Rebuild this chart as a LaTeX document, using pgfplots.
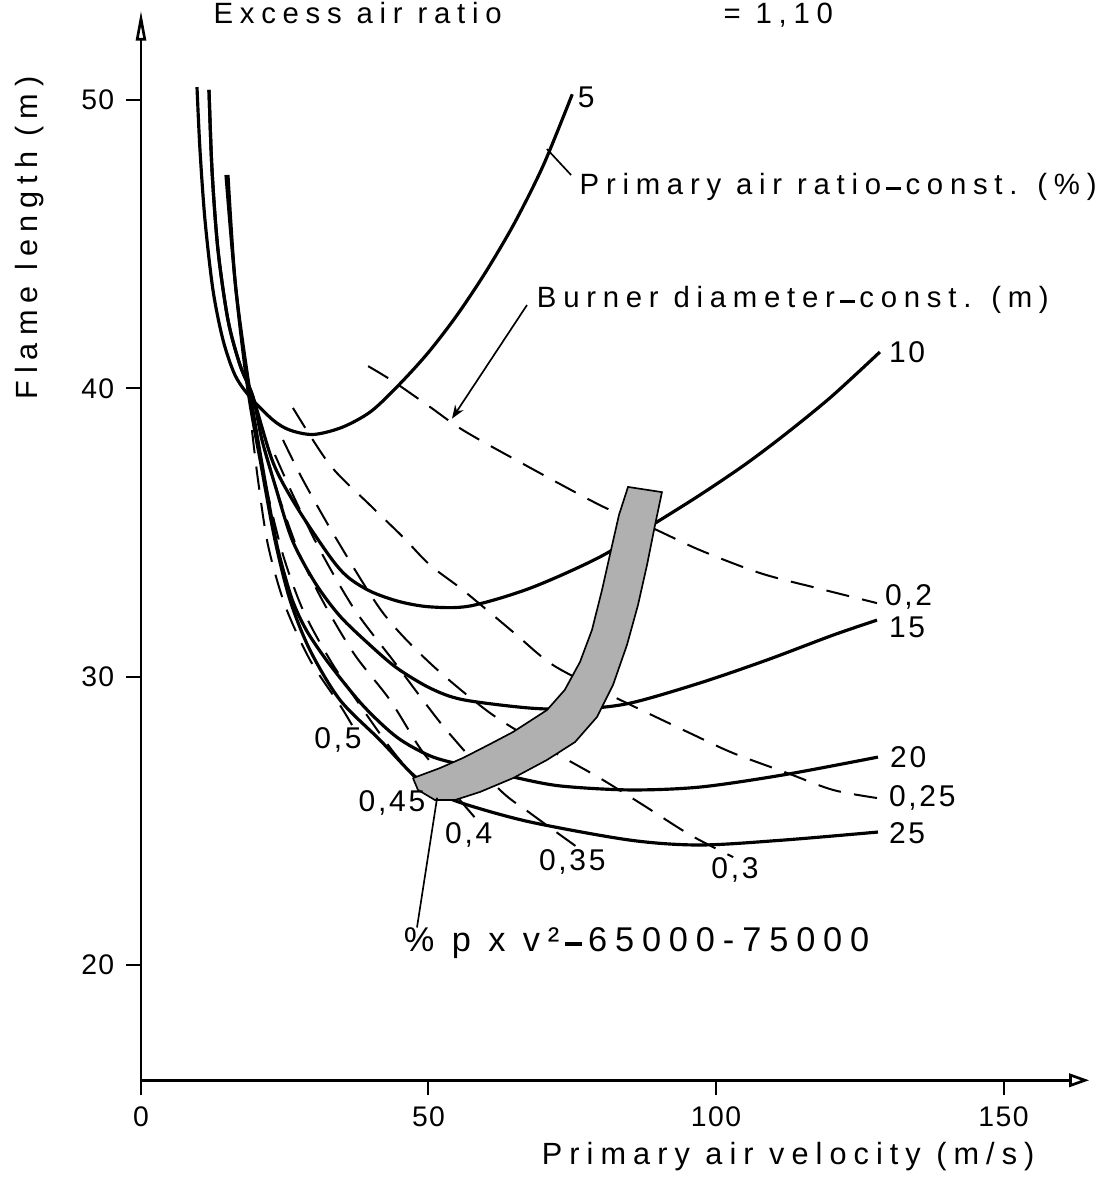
\documentclass[border=0pt]{standalone}
\usepackage{fontspec}
\setmainfont{Liberation Sans}[LetterSpace=23]
\newfontfamily\numfont{Liberation Sans}[LetterSpace=5]
\newfontfamily\labfont{Liberation Sans}[LetterSpace=9]
\usepackage{pgfplots}
\pgfplotsset{compat=1.18}
\usetikzlibrary{arrows.meta}

\newcommand{\lab}{\fontsize{8.8}{10}\selectfont}
\newcommand{\nlab}{\labfont\fontsize{9}{10}\selectfont}
\newcommand{\bdash}{\,\rule[0.3ex]{0.5em}{0.22ex}\,}

\pgfplotsset{
  curve/.style={black, line width=0.95pt, smooth, tension=0.5, no markers},
  dcurve/.style={black, line width=0.6pt, smooth, tension=0.5, no markers, dash pattern=on 7pt off 4pt},
  lead/.style={black, line width=0.5pt, no markers},
}

\begin{document}
\begin{tikzpicture}
\begin{axis}[
  x=1.725pt, y=8.649pt,
  xmin=0, xmax=164.9, ymin=16, ymax=53.1,
  axis lines=left,
  axis line style={line width=0.8pt},
  x axis line style={-{Triangle[open,length=6pt,width=4pt]}},
  y axis line style={-{Triangle[open,length=9pt,width=3pt]}},
  xtick={0,50,100,150}, ytick={20,30,40,50},
  tick align=outside, major tick length=4.5pt,
  tick style={black, line width=0.6pt},
  /pgf/number format/assume math mode=true,
  tick label style={font=\numfont\fontsize{8.5}{10}\selectfont},
  clip=false,
]

% primary air ratio = const. (solid)
\addplot[curve] coordinates {(9.74,50.45) (10.26,48.27) (11.13,45.84) (12.52,43.41) (14.26,41.68) (16.35,40.46) (18.96,39.70) (22.96,38.90) (25.91,38.55) (30.0,38.4) (35.0,38.65) (40.0,39.2) (45.0,40.15) (50.0,41.25) (55.0,42.55) (60.0,44.05) (65.0,45.75) (70.0,47.75) (75.0,50.2)};
\addplot[curve] coordinates {(11.83,50.35) (12.35,47.57) (13.39,44.80) (15.13,42.37) (17.22,40.81) (19.48,39.70) (23.0,37.41) (27.1,35.88) (32.9,34.15) (36.0,33.45) (40.0,32.95) (45.0,32.6) (50.3,32.42) (57.2,32.45) (67.7,33.07) (79.8,34.15) (89.7,35.36) (97.2,36.30) (105.0,37.35) (112.0,38.4) (120.0,39.7) (128.5,41.26)};
\addplot[curve] coordinates {(11.83,50.35) (12.35,47.57) (13.39,44.80) (15.13,42.37) (17.22,40.81) (19.48,39.70) (21.04,38.21) (23.3,36.65) (26.3,34.74) (30.3,33.25) (34.6,32.1) (39.8,31.1) (44.5,30.3) (50.3,29.6) (56.0,29.2) (67.65,28.91) (76.35,28.88) (85.04,29.08) (97.2,29.78) (108.9,30.58) (120.35,31.44) (128.0,31.96)};
\addplot[curve] coordinates {(14.78,47.40) (16.52,43.41) (18.96,39.87) (21.39,36.99) (23.65,34.56) (25.91,32.9) (27.5,32.1) (29.4,31.4) (32.9,30.4) (38.6,29.0) (44.5,27.9) (50.3,27.25) (56.0,26.93) (64.7,26.52) (72.87,26.21) (85.04,26.07) (97.2,26.17) (111.65,26.59) (128.17,27.21)};
\addplot[curve] coordinates {(15.13,47.4) (16.35,43.76) (18.6,39.94) (21.04,37.17) (23.3,34.74) (25.91,32.66) (29.39,30.92) (34.61,29.19) (41.57,27.8) (47.3,26.6) (51.5,26.0) (56.0,25.6) (67.65,24.96) (85.04,24.33) (97.2,24.16) (111.65,24.33) (128.17,24.61)};

% burner diameter = const. (dashed)
\addplot[dcurve] coordinates {(39.5,40.77) (43.8,40.25) (50.3,39.35) (56.0,38.55) (65.9,37.44) (79.8,35.95) (89.0,35.15) (97.2,34.39) (107.7,33.59) (117.6,33.07) (128.0,32.55)};
\addplot[dcurve] coordinates {(26.43,39.32) (32.87,37.34) (39.83,35.95) (45.57,34.84) (50.26,33.87) (56.0,33.0) (64.7,31.55) (71.13,30.47) (78.1,29.71) (84.52,29.08) (95.48,28.04) (102.96,27.35) (112.35,26.66) (120.35,26.07) (128.0,25.79)};
\addplot[dcurve] coordinates {(24.7,38.21) (28.17,36.82) (34.09,34.74) (42.09,32.21) (50.26,30.47) (60.7,28.74) (70.6,27.52) (79.8,26.48) (87.3,25.55) (95.5,24.51) (103.0,23.74)};
\addplot[dcurve] coordinates {(23.3,37.69) (26.43,36.30) (31.13,34.39) (37.2,32.31) (44.2,30.47) (49.74,29.0) (53.74,28.0) (62.43,26.07) (67.65,25.27) (75.83,24.09)};
\addplot[dcurve] coordinates {(21.57,37.86) (24.17,36.13) (27.65,34.22) (32.0,32.48) (37.2,30.75) (43.3,29.19) (48.52,27.52) (52.52,26.52) (55.48,25.72) (58.43,25.03)};
\addplot[dcurve] coordinates {(20.35,38.03) (22.09,36.30) (24.7,34.22) (28.17,32.31) (32.87,30.58) (38.09,29.01) (43.65,27.45) (49.39,26.07)};
\addplot[dcurve] coordinates {(19.3,38.55) (20.35,36.82) (22.09,34.56) (25.04,32.48) (29.39,30.58) (34.61,29.01) (36.7,28.32)};

% p v^2 band
\addplot[draw=black, line width=0.5pt, fill=gray!62, no markers] coordinates {
  (47.3,26.48) (52.0,26.83) (56.0,27.18) (60.7,27.66) (64.7,28.08) (70.6,28.84) (73.7,29.54) (76.35,30.51) (78.43,31.62) (80.17,33.0) (81.74,34.39) (83.13,35.61) (84.7,36.58)
  (90.6,36.4) (89.4,35.26) (88.0,33.87) (86.43,32.48) (84.52,31.10) (82.09,29.71) (79.3,28.60) (75.48,27.73) (70.6,27.11) (64.7,26.48) (58.96,26.0) (54.6,25.72) (51.13,25.72) (48.17,26.07) (47.3,26.48)};

% leaders
\addplot[lead] coordinates {(70.6,48.3) (74.8,47.4)};
\addplot[lead, -{Stealth[length=4pt,width=3pt]}] coordinates {(67.13,42.89) (54.09,38.95)};
\addplot[lead] coordinates {(51.5,25.8) (48.0,21.3)};

% labels
\node[font=\nlab, anchor=west, inner sep=1pt] at (axis cs:75.3,50.1) {5};
\node[font=\nlab, anchor=west, inner sep=1pt] at (axis cs:129.4,41.26) {10};
\node[font=\nlab, anchor=west, inner sep=1pt] at (axis cs:128.7,32.76) {0,2};
\node[font=\nlab, anchor=west, inner sep=1pt] at (axis cs:129.4,31.72) {15};
\node[font=\nlab, anchor=west, inner sep=1pt] at (axis cs:129.6,27.21) {20};
\node[font=\nlab, anchor=west, inner sep=1pt] at (axis cs:129.4,25.79) {0,25};
\node[font=\nlab, anchor=west, inner sep=1pt] at (axis cs:129.4,24.58) {25};
\node[font=\nlab] at (axis cs:103.3,23.29) {0,3};
\node[font=\nlab] at (axis cs:75.0,23.57) {0,35};
\node[font=\nlab] at (axis cs:57.0,24.5) {0,4};
\node[font=\nlab] at (axis cs:43.65,25.62) {0,45};
\node[font=\nlab] at (axis cs:34.26,27.8) {0,5};

\node[font=\lab, anchor=west, inner sep=1pt] at (axis cs:75.6,46.98) {Primary air ratio\bdash const. (\%)};
\node[font=\lab, anchor=west, inner sep=1pt] at (axis cs:68.17,43.06) {Burner diameter\bdash const. (m)};
\node[font=\fontsize{10.3}{12}\selectfont, anchor=west, inner sep=0pt] at (axis cs:45.6,20.76) {\% p x v²\bdash 65000-75000};

\node[font=\fontsize{9.2}{11}\selectfont, anchor=east, inner sep=0pt] at (axis cs:155.5,13.36) {Primary air velocity (m/s)};
\node[font=\fontsize{9.2}{11}\selectfont, rotate=90, anchor=east, inner sep=0pt] at (axis cs:-19.3,50.85) {Flame length (m)};

\node[font=\lab, anchor=base west, inner sep=0pt] at (axis cs:12.5,52.64) {Excess air ratio};
\node[font=\lab, anchor=base west, inner sep=0pt] at (axis cs:101.2,52.64) {= 1,10};

\coordinate (bbSW) at (axis cs:-24.52,12.61);
\coordinate (bbNE) at (axis cs:168.0,53.47);
\end{axis}
\pgfresetboundingbox
\path[use as bounding box] (bbSW) rectangle (bbNE);
\end{tikzpicture}
\end{document}
